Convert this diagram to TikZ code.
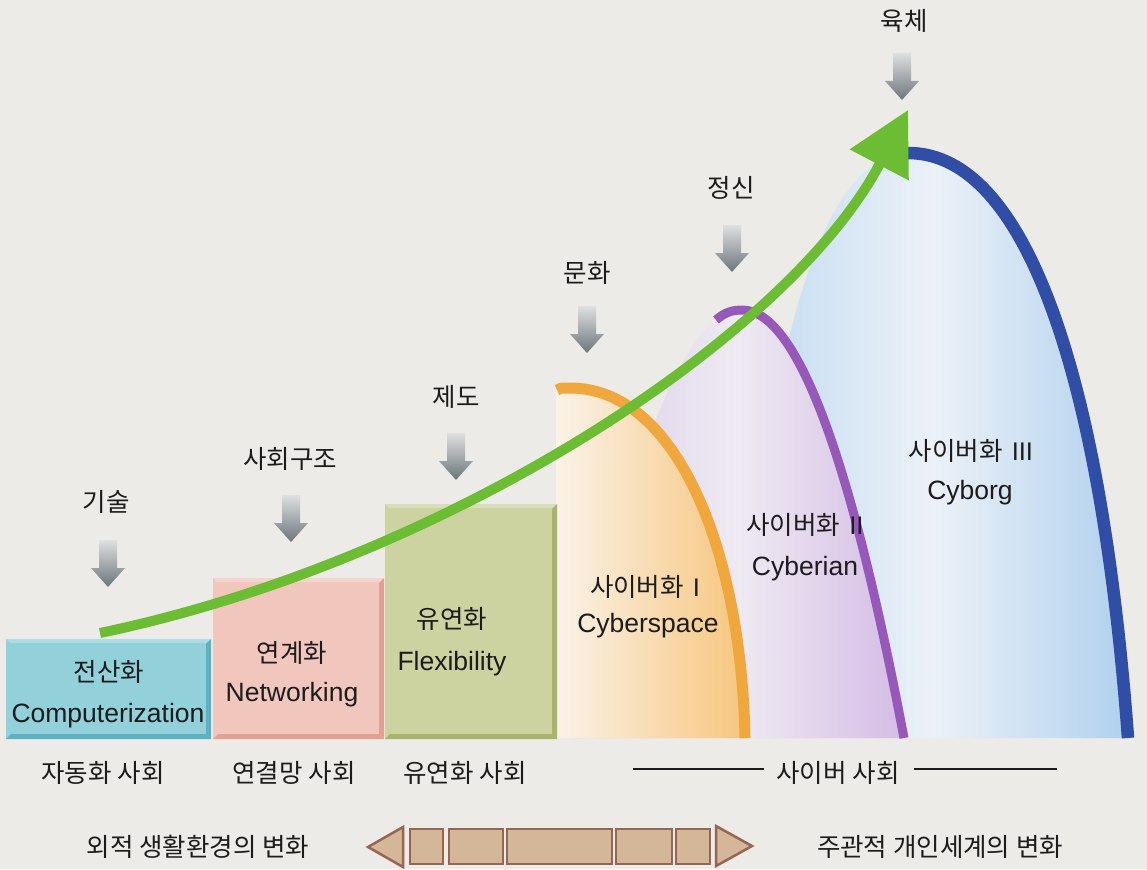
\documentclass[tikz,border=0pt]{standalone}
\usepackage{fontspec}
\setmainfont{Liberation Sans}
\newfontfamily\kr{Noto Sans CJK KR}
\newfontfamily\lat{Liberation Sans}
\usetikzlibrary{arrows.meta}
\definecolor{bg}{RGB}{237,235,231}
\definecolor{ink}{RGB}{28,28,28}
\definecolor{cyanM}{RGB}{146,208,218}
\definecolor{cyanD}{RGB}{96,176,196}
\definecolor{pinkM}{RGB}{241,198,188}
\definecolor{pinkD}{RGB}{224,160,150}
\definecolor{oliveM}{RGB}{204,211,160}
\definecolor{oliveD}{RGB}{168,180,108}
\definecolor{orL}{RGB}{250,242,231}
\definecolor{orR}{RGB}{246,198,126}
\definecolor{orE}{RGB}{240,168,62}
\definecolor{puL}{RGB}{218,204,232}
\definecolor{puM}{RGB}{238,234,242}
\definecolor{puR}{RGB}{212,188,228}
\definecolor{puE}{RGB}{150,88,185}
\definecolor{blL}{RGB}{190,218,240}
\definecolor{blM}{RGB}{236,241,247}
\definecolor{blR}{RGB}{176,208,237}
\definecolor{blE}{RGB}{48,78,165}
\definecolor{grn}{RGB}{108,188,52}
\definecolor{arrT}{RGB}{222,224,224}
\definecolor{arrB}{RGB}{108,118,124}
\definecolor{barF}{RGB}{212,182,152}
\definecolor{barE}{RGB}{150,102,82}
\tikzset{
  kor/.style={text=ink, inner sep=0pt, font=\kr\fontsize{25.5}{30}\selectfont},
  eng/.style={text=ink, inner sep=0pt, font=\fontsize{26.5}{31}\selectfont},
  grayarr/.style={top color=arrT, bottom color=arrB, draw=none},
  bar/.style={fill=barF, draw=barE, line width=2.5pt, line join=miter},
  growth/.style={draw=grn, line width=10pt, -{Triangle[length=62pt,width=64pt]}},
  rule/.style={draw=ink, line width=1.4pt},
}
\newcommand\dnarr[1]{\path[grayarr,shift={(#1)}] (-9,0) -- (9,0) -- (9,28) -- (17,28) -- (0,47) -- (-17,28) -- (-9,28) -- cycle;}
\newcommand\bevbox[6]{% x1 y1 x2 y2 main dark
  \fill[#5] (#1,#2) rectangle (#3,#4);
  \fill[#6] (#3-5,#2+5) -- (#3,#2) -- (#3,#4) -- (#3-5,#4-5) -- cycle;
  \fill[#6] (#1+5,#4-5) -- (#3-5,#4-5) -- (#3,#4) -- (#1,#4) -- cycle;
  \fill[white,opacity=0.25] (#1,#2) -- (#3,#2) -- (#3-5,#2+4) -- (#1+4,#2+4) -- cycle;
}
\begin{document}
\begin{tikzpicture}[x=1pt,y=-1pt]
\useasboundingbox (0,0) rectangle (1147,869);
\fill[bg] (0,0) rectangle (1147,869);

% ---- domes ----
\shade[left color=blL, right color=blR, middle color=blM]
  (738,738) .. controls (758,387) and (814,153) .. (908,153)
  .. controls (1029,153) and (1102,387) .. (1128,738) -- cycle;
\draw[blE, line width=12.5pt] (908,153) .. controls (1029,153) and (1102,387) .. (1128,738);

\shade[left color=puL, right color=puR, middle color=puM]
  (572,738) .. controls (629,453) and (685,310) .. (742,310)
  .. controls (796,310) and (850,453) .. (904,738) -- cycle;
\draw[puE, line width=9pt] (716,320) .. controls (725,312) and (733,310) .. (742,310)
  .. controls (796,310) and (850,453) .. (904,738);

\shade[left color=orL, right color=orR]
  (556,738) -- (556,390) .. controls (560,388) .. (570,388)
  .. controls (675,388) and (741,546) .. (745,738) -- cycle;
\draw[orE, line width=11pt] (557,390) .. controls (560,388) .. (570,388)
  .. controls (675,388) and (741,546) .. (745,738);

% ---- boxes ----
\bevbox{6}{639}{211}{739}{cyanM}{cyanD}
\bevbox{213}{578}{384}{739}{pinkM}{pinkD}
\bevbox{385}{504}{557}{739}{oliveM}{oliveD}

% ---- stage labels ----
\node[kor] (b1k) at (109,672) {전산화};
\node[eng] (b1e) at (108,716) {Computerization};
\node[kor] (b2k) at (292,653) {연계화};
\node[eng] (b2e) at (292,695) {Networking};
\node[kor] (b3k) at (452,619) {유연화};
\node[eng] (b3e) at (452,664) {Flexibility};
\node[kor] (d1k) at (645,587) {사이버화\hspace{9pt}{\lat I}};
\node[eng] (d1e) at (648,626) {Cyberspace};
\node[kor] (d2k) at (805,525) {사이버화\hspace{9pt}{\lat II}};
\node[eng] (d2e) at (805,569) {Cyberian};
\node[kor] (d3k) at (971,451) {사이버화\hspace{9pt}{\lat III}};
\node[eng] (d3e) at (970,493) {Cyborg};

% ---- driver labels and gray arrows ----
\node[kor] (k1) at (106,502) {기술};
\node[kor] (k2) at (290,459) {사회구조};
\node[kor] (k3) at (456,397) {제도};
\node[kor] (k4) at (587,273) {문화};
\node[kor] (k5) at (731,188) {정신};
\node[kor] (k6) at (904,21) {육체};
\coordinate (a1) at (108,540);
\coordinate (a2) at (291,495);
\coordinate (a3) at (456,433);
\coordinate (a4) at (587,306);
\coordinate (a5) at (732,225);
\coordinate (a6) at (902,53);
\dnarr{a1}\dnarr{a2}\dnarr{a3}\dnarr{a4}\dnarr{a5}\dnarr{a6}

% ---- green growth arrow ----
\coordinate (g0) at (100,633);
\coordinate (g1) at (908,110);
\draw[growth] (g0) .. controls (450,560) and (790,335) .. (g1);

% ---- society labels ----
\node[kor] (s1) at (103,773) {자동화 사회};
\node[kor] (s2) at (294,773) {연결망 사회};
\node[kor] (s3) at (465,773) {유연화 사회};
\node[kor] (s4) at (838,773) {사이버 사회};
\coordinate (l1) at (633,769);
\coordinate (l1a) at (764,769);
\coordinate (l2a) at (914,769);
\coordinate (l2) at (1057,769);
\draw[rule] (l1) -- (l1a);
\draw[rule] (l2a) -- (l2);

% ---- bottom double bar ----
\node[kor] (e1) at (198,847) {외적 생활환경의 변화};
\node[kor] (e2) at (940,847) {주관적 개인세계의 변화};
\path[bar] (368,847) -- (403,827) -- (403,867) -- cycle;
\path[bar] (410,829) rectangle (443,864);
\path[bar] (449,829) rectangle (503,864);
\path[bar] (507,829) rectangle (612,864);
\path[bar] (616,829) rectangle (672,864);
\path[bar] (676,829) rectangle (710,864);
\path[bar] (752,846) -- (716,826) -- (716,866) -- cycle;
\end{tikzpicture}
\end{document}
